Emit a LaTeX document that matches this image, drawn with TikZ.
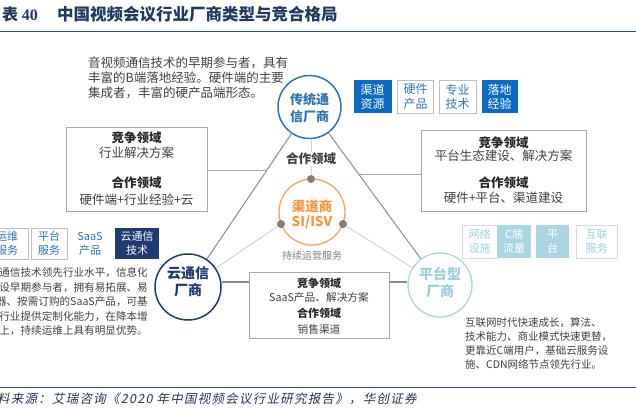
\documentclass[tikz,border=0pt]{standalone}
\usepackage{fontspec}
\setmainfont{Noto Sans CJK SC}
\newfontfamily\footfont[FakeSlant=0.2,LetterSpace=10]{Noto Sans CJK SC}
\newfontfamily\numfont{Liberation Serif}
\usetikzlibrary{calc}
\definecolor{navy}{HTML}{1F3864}
\definecolor{hdr}{HTML}{24509A}
\definecolor{tblue}{HTML}{2E75B6}
\definecolor{tagblue}{HTML}{0B6BC2}
\definecolor{cnavy}{HTML}{203A72}
\definecolor{lblue}{HTML}{A9D6E2}
\definecolor{lbtext}{HTML}{9CCFDD}
\definecolor{orng}{HTML}{F5A560}
\definecolor{orngtxt}{HTML}{F7963F}
\definecolor{txt}{HTML}{404040}
\definecolor{txtb}{HTML}{262626}
\definecolor{dotg}{HTML}{7F7F7F}
\definecolor{edgeg}{HTML}{8C8C8C}
\definecolor{lightg}{HTML}{D0D0D0}
\definecolor{boxg}{HTML}{A6A6A6}
\definecolor{tagborder}{HTML}{BFBFBF}
\definecolor{ltagborder}{HTML}{D9D9D9}
\tikzset{
  ring/.style={circle, inner sep=0pt, fill=white},
  ctext/.style={align=center, inner sep=0pt, font=\fontsize{14}{17}\selectfont\bfseries},
  tagbox/.style={rectangle, inner sep=0pt, align=center},
  ttag/.style={tagbox, minimum height=33, font=\fontsize{12}{14}\selectfont},
  ltag/.style={tagbox, minimum height=31, font=\fontsize{11}{14}\selectfont},
  rtag/.style={tagbox, minimum height=33, font=\fontsize{11}{14}\selectfont},
  infobox/.style={rectangle, draw=boxg, line width=0.6pt, inner sep=0pt},
  para/.style={align=left, text=txt, inner sep=0pt},
  btxt/.style={text=txt, inner sep=0pt, font=\fontsize{12.5}{15}\selectfont},
  bhead/.style={text=txtb, inner sep=0pt, font=\fontsize{12.5}{15}\selectfont\bfseries},
  stxt/.style={text=txt, inner sep=0pt, font=\fontsize{10.7}{13}\selectfont},
  shead/.style={text=txtb, inner sep=0pt, font=\fontsize{11}{13}\selectfont\bfseries},
  dotn/.style={circle, fill=dotg, inner sep=0pt, minimum size=8},
}
\begin{document}
\begin{tikzpicture}[x=1pt,y=-1pt]
\useasboundingbox (0,0) rectangle (636,408);
% title
\node[anchor=east, inner sep=0pt, text=navy, font=\fontsize{16}{16}\selectfont\bfseries] (tabno) at (38,14) {表 {\numfont\bfseries 40}};
\node[anchor=west, inner sep=0pt, text=navy, font=\fontsize{16.5}{16}\selectfont\bfseries] (title) at (57,14) {中国视频会议行业厂商类型与竞合格局};
\draw[hdr, line width=1.3pt] (0,31.5) -- (636,31.5);

% circles
\node[ring, draw=tblue, line width=1.5pt, minimum size=63] (trad) at (309.5,107) {};
\node[ring, draw=cnavy, line width=1.5pt, minimum size=66] (cloud) at (188,287) {};
\node[ring, draw=lblue, line width=1.3pt, minimum size=64] (plat) at (440,285) {};
\node[ring, draw=orng, line width=1.3pt, minimum size=66] (chan) at (312,212) {};

% triangle edges
\draw[edgeg, line width=1pt] (trad) -- (cloud);
\draw[edgeg, line width=1pt] (trad) -- (plat);

% dots
\node[dotn] (dotT) at (311,179) {};
\node[dotn] (dotL) at (281,224) {};
\node[dotn] (dotR) at (343,224) {};
\draw[lightg, line width=0.9pt] (dotT |- trad.south) -- (dotT);
\draw[lightg, line width=0.9pt] (dotL) -- (cloud);
\draw[lightg, line width=0.9pt] (dotR) -- (plat);
\node[fill=white, inner sep=1pt, text=txt, font=\fontsize{12.5}{15}\selectfont\bfseries] (coop) at (311,159) {合作领域};

% circle texts
\node[ctext, text=tblue, font=\fontsize{13}{17}\selectfont\bfseries] (tradtxt) at (309.5,107.5) {传统通\\信厂商};
\node[ctext, text=cnavy] (cloudtxt) at (188,282) {云通信\\厂商};
\node[ctext, text=lbtext] (plattxt) at (440,282.5) {平台型\\厂商};
\node[align=center, inner sep=0pt, text=orngtxt, font=\fontsize{13.5}{15}\selectfont\bfseries] (chantxt) at (312,214.5) {渠道商\\SI/ISV};
\node[inner sep=0pt, text=dotg, font=\fontsize{10}{12}\selectfont] (svc) at (312,256) {持续运营服务};

% left box
\node[infobox, minimum width=141, minimum height=84] (boxL) at (136.5,169) {};
\node[bhead] (bl1) at (136.5,138) {竞争领域};
\node[btxt] (bl2) at (136.5,153) {行业解决方案};
\node[bhead] (bl3) at (136.5,183) {合作领域};
\node[btxt] (bl4) at (136.5,200) {硬件端+行业经验+云};
\coordinate (eL) at ($(trad)!0.35!(cloud)$);
\draw[boxg, line width=0.7pt] (boxL.east |- eL) -- (eL);

% right box
\node[infobox, minimum width=165, minimum height=81] (boxR) at (503.5,170.5) {};
\node[bhead] (br1) at (503.5,143) {竞争领域};
\node[btxt] (br2) at (503.5,156) {平台生态建设、解决方案};
\node[bhead] (br3) at (503.5,183) {合作领域};
\node[btxt] (br4) at (503.5,198) {硬件+平台、渠道建设};
\coordinate (eR) at ($(trad)!0.376!(plat)$);
\draw[boxg, line width=0.7pt] (eR) -- (eR -| boxR.west);

% bottom box
\node[infobox, minimum width=140, minimum height=66] (boxB) at (319,305) {};
\node[shead] (bb1) at (319,283) {竞争领域};
\node[stxt] (bb2) at (319,297.5) {SaaS产品、解决方案};
\node[shead] (bb3) at (319,313) {合作领域};
\node[stxt] (bb4) at (319,329) {销售渠道};
\coordinate (hb) at (0,282);
\draw[edgeg, line width=1.2pt] (cloud.east |- hb) -- (boxB.west |- hb);
\draw[edgeg, line width=1.2pt] (boxB.east |- hb) -- (plat.west |- hb);

% paragraphs
\node[para, anchor=west, font=\fontsize{12.5}{15}\selectfont] (ptop) at (88,78) {音视频通信技术的早期参与者，具有\\丰富的B端落地经验。硬件端的主要\\集成者，丰富的硬产品端形态。};
\node[para, anchor=east, align=right, font=\fontsize{10.6}{14.5}\selectfont] (pleft) at (148,302) {通信技术领先行业水平，信息化\\设早期参与者，拥有易拓展、易\\器、按需订购的SaaS产品，可基\\行业提供定制化能力，在降本增\\上，持续运维上具有明显优势。};
\node[para, anchor=west, font=\fontsize{10.5}{14}\selectfont] (pright) at (465,343) {互联网时代快速成长，算法、\\技术能力、商业模式快速更替，\\更靠近C端用户，基础云服务设\\施、CDN网络节点领先行业。};

% top tags
\node[ttag, fill=tagblue, text=white, minimum width=38] (t1) at (372.5,96.5) {渠道\\资源};
\node[ttag, draw=tagborder, text=tblue, minimum width=36] (t2) at (415.5,96.5) {硬件\\产品};
\node[ttag, draw=tagborder, text=tblue, minimum width=37] (t3) at (457.5,96.5) {专业\\技术};
\node[ttag, fill=tagblue, text=white, minimum width=36] (t4) at (499.5,96.5) {落地\\经验};

% left tags
\node[ltag, draw=tagborder, text=tblue, minimum width=42] (l1) at (7,243.5) {运维\\服务};
\node[ltag, draw=tagborder, text=tblue, minimum width=36] (l2) at (49,243.5) {平台\\服务};
\node[ltag, text=tblue] (l3) at (90,243.5) {SaaS\\产品};
\node[ltag, fill=cnavy, text=white, minimum width=44] (l4) at (137,243.5) {云通信\\技术};

% right tags
\node[rtag, draw=ltagborder, text=lbtext, minimum width=35] (r1) at (479.5,241.5) {网络\\设施};
\node[rtag, fill=lblue, text=white, minimum width=34] (r2) at (514,241.5) {C端\\流量};
\node[rtag, fill=lblue, text=white, minimum width=33] (r3) at (552.5,241.5) {平\\台};
\node[rtag, draw=ltagborder, text=lbtext, minimum width=41] (r4) at (596.5,241.5) {互联\\服务};

% footer
\draw[hdr, line width=1pt] (0,387) -- (636,387);
\node[anchor=west, inner sep=0pt, text=navy, font=\fontsize{12.5}{14}\footfont] (src) at (-3,399) {料来源：艾瑞咨询《2020 年中国视频会议行业研究报告》，华创证券};
\end{tikzpicture}
\end{document}
